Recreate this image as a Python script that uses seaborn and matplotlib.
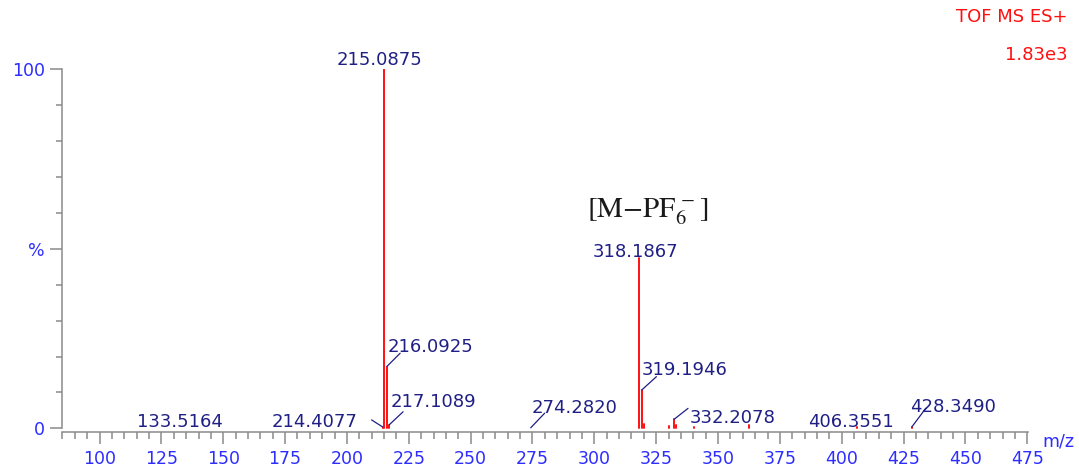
import matplotlib
matplotlib.use("Agg")
import matplotlib.pyplot as plt
import numpy as np
import pandas as pd
import seaborn as sns
from matplotlib.ticker import MultipleLocator, FixedLocator

# Centroided peaks: m/z and relative intensity (%)
peak_mz = [133.5164, 214.4077, 215.0875, 216.0925, 217.1089, 274.2820,
           318.1867, 319.1946, 320.1980, 330.2100, 332.2078, 333.2110,
           340.2200, 362.5000, 406.3551, 428.3490]
peak_pct = [0.15, 0.4, 100.0, 17.2, 1.0, 0.15,
            47.4, 10.7, 1.2, 0.6, 2.5, 0.8,
            0.4, 0.9, 0.4, 0.4]

# Peaks that carry an m/z label
labelled_mz = [133.5164, 214.4077, 215.0875, 216.0925, 217.1089, 274.2820,
               318.1867, 319.1946, 332.2078, 406.3551, 428.3490]

# x tick labels
x_ticks = [100, 125, 150, 175, 200, 225, 250, 275, 300, 325, 350, 375,
           400, 425, 450, 475]
y_ticks = [0, 50, 100]
y_tick_labels = ["0", "%", "100"]

ion_label = r"[M$-$PF$_{6}^{\,-}$]"
ion_mz = 318.1867
header_lines = ["TOF MS ES+", "1.83e3"]

# Label placement in pixels relative to the peak apex: (ha, dx, dy, leader end)
label_layout = {
    133.5164: ("center", -3, 1, None),
    214.4077: ("right", -25, 0, (-11, 7)),
    215.0875: ("center", -5, 4, None),
    216.0925: ("left", 1, 14.5, (13.4, 13.4)),
    217.1089: ("left", 1.2, 18, (13.8, 13)),
    274.2820: ("left", 0.7, 14.7, (14, 14.7)),
    318.1867: ("center", -4, 1, None),
    319.1946: ("left", -0.4, 15, (14.6, 13.3)),
    332.2078: ("left", 15.7, -4, (14, 11)),
    406.3551: ("center", -6, 0.3, None),
    428.3490: ("left", -1.3, 15.3, (14, 18.7)),
}

RED = "#ff1010"
TICK_BLUE = "#2d2dff"
NAVY = "#1f1f85"
GREY = "#8a8a8a"

sns.set_style("ticks")
plt.rcParams["font.family"] = ["DejaVu Sans"]
plt.rcParams["mathtext.fontset"] = "stix"

# Each peak becomes a vertical stick from 0 to its intensity
rows = []
for i, (mz, pct) in enumerate(zip(peak_mz, peak_pct)):
    rows.append({"peak": i, "mz": mz, "pct": 0.0})
    rows.append({"peak": i, "mz": mz, "pct": pct})
df = pd.DataFrame(rows)

fig = plt.figure(figsize=(10.79, 4.72), dpi=100)
ax = fig.add_axes([0.0572, 0.0847, 0.8953, 0.7685])

sns.lineplot(data=df, x="mz", y="pct", units="peak", estimator=None,
             sort=False, color=RED, linewidth=1.4, legend=False, ax=ax)

ax.set_xlim(84.7, 475.2)
ax.set_ylim(-1.02, 100)
ax.set_xlabel("")
ax.set_ylabel("")

for side in ("top", "right"):
    ax.spines[side].set_visible(False)
for side in ("left", "bottom"):
    ax.spines[side].set_color(GREY)
    ax.spines[side].set_linewidth(1.1)
ax.spines["left"].set_bounds(0, 100)

ax.xaxis.set_major_locator(FixedLocator(x_ticks))
ax.set_xticklabels([str(t) for t in x_ticks])
ax.xaxis.set_minor_locator(MultipleLocator(5))
ax.yaxis.set_major_locator(FixedLocator(y_ticks))
ax.set_yticklabels(y_tick_labels)
ax.yaxis.set_minor_locator(MultipleLocator(10))

ax.tick_params(axis="x", which="major", direction="out", length=8.6, width=1.1,
               color=GREY, labelcolor=TICK_BLUE, labelsize=12.5, pad=4)
ax.tick_params(axis="x", which="minor", direction="out", length=5, width=1.1,
               color=GREY)
ax.tick_params(axis="y", which="major", direction="out", length=8.4, width=1.1,
               color=GREY, labelcolor=TICK_BLUE, labelsize=12.5, pad=3.6)
ax.tick_params(axis="y", which="minor", direction="out", length=4.1, width=1.1,
               color=GREY)

# Peak labels with leader lines
pct_of = dict(zip(peak_mz, peak_pct))
for mz in labelled_mz:
    h = pct_of[mz]
    ha, dx, dy, leader = label_layout[mz]
    ax.annotate(f"{mz:.4f}", xy=(mz, h), xytext=(dx, dy),
                textcoords="offset pixels", ha=ha, va="baseline",
                fontsize=13, color=NAVY, annotation_clip=False)
    if leader is not None:
        ax.annotate("", xy=(mz, h), xytext=leader, textcoords="offset pixels",
                    arrowprops=dict(arrowstyle="-", color=NAVY, lw=0.9,
                                    shrinkA=0, shrinkB=0),
                    annotation_clip=False)

# Ion assignment above the molecular ion peak
ax.annotate(ion_label, xy=(ion_mz, pct_of[ion_mz]), xytext=(8.4, 41.3),
            textcoords="offset pixels", ha="center", va="baseline",
            fontsize=21, color="#1a1a1a", family="STIXGeneral")

# Axis unit and acquisition header
fig.text(1042 / 1079, 1 - 446 / 472, "m/z", color=TICK_BLUE, fontsize=12.5,
         ha="left", va="baseline")
fig.text(1068 / 1079, 1 - 22 / 472, header_lines[0], color=RED, fontsize=13,
         ha="right", va="baseline")
fig.text(1068 / 1079, 1 - 60 / 472, header_lines[1], color=RED, fontsize=13,
         ha="right", va="baseline")

fig.savefig("out.png", dpi=100)
